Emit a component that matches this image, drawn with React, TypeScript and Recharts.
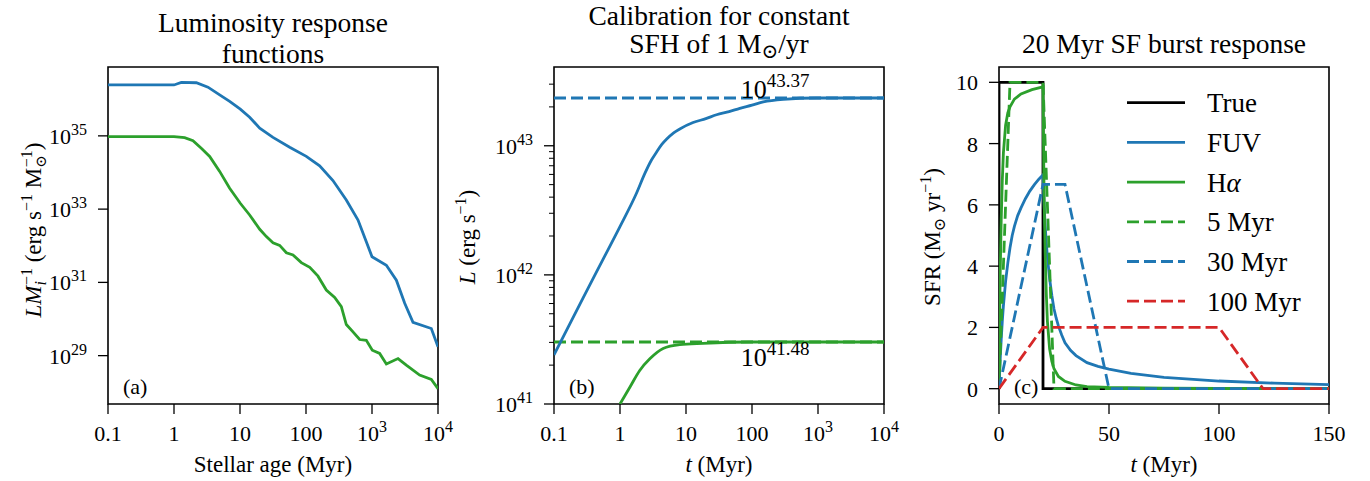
import React from 'react';
import { LineChart, Line, XAxis, YAxis, ReferenceArea, ReferenceDot, Legend } from 'recharts';

const FONT = "'Liberation Serif', 'DejaVu Serif', serif";
const BLUE = '#1f77b4';
const GREEN = '#2ca02c';
const RED = '#d62728';
const BLACK = '#000000';
const LW = 2.8;
const DASH = '12 5';

// ---------------- Panel (a): luminosity response functions ----------------
const ageTicks = [0.1, 1, 10, 100, 1000, 10000];
const respYTicks = [1e29, 1e31, 1e33, 1e35];
const respYLogRange = [27.68, 36.88];
const respFuvAge = [0.1, 1, 1.29, 2.18, 3.27, 4.92, 6.97, 10.1, 14, 19.9, 31.6, 56.6, 101, 161, 256, 408, 614, 820, 1000, 1650, 2340, 3130, 4180, 7920, 10000];
const respFuvLogL = [36.39, 36.39, 36.46, 36.45, 36.33, 36.12, 35.94, 35.73, 35.51, 35.21, 34.96, 34.69, 34.44, 34.18, 33.78, 33.25, 32.7, 32.11, 31.7, 31.47, 31.06, 30.43, 29.91, 29.74, 29.24];
const respHaAge = [0.1, 1, 1.45, 1.94, 2.59, 3.47, 4.92, 6.97, 10.1, 14, 19.9, 25.1, 31.6, 39.9, 50.4, 63.5, 84.9, 114, 152, 203, 272, 343, 408, 515, 650, 820, 1010, 1306, 1650, 2480, 3310, 5270, 7920, 10000];
const respHaLogL = [34.98, 34.98, 34.95, 34.87, 34.66, 34.44, 34.03, 33.57, 33.16, 32.84, 32.45, 32.25, 32.08, 32.01, 31.81, 31.75, 31.54, 31.41, 31.17, 30.79, 30.59, 30.34, 29.85, 29.65, 29.44, 29.42, 29.15, 29.06, 28.77, 28.92, 28.74, 28.47, 28.35, 28.1];

// ---------------- Panel (b): calibration for constant SFH ----------------
const calYTicks = [1e41, 2e41, 3e41, 4e41, 5e41, 6e41, 7e41, 8e41, 9e41, 1e42, 2e42, 3e42, 4e42, 5e42, 6e42, 7e42, 8e42, 9e42, 1e43, 2e43, 3e43];
const calYLogRange = [41, 43.61];
const calFuvT = [0.1, 0.275, 0.553, 0.99, 1.77, 2.4, 3.0, 3.57, 4.3, 5.06, 6.5, 8.05, 12.8, 20, 29, 45, 65.4, 100, 148, 297, 953, 10000];
const calFuvLogL = [41.38, 41.82, 42.12, 42.37, 42.63, 42.79, 42.89, 42.95, 43.01, 43.05, 43.1, 43.13, 43.18, 43.21, 43.24, 43.265, 43.29, 43.315, 43.34, 43.36, 43.37, 43.37];
const calHaT = [1, 1.41, 1.99, 2.83, 4.5, 8.05, 18.2, 92.9, 10000];
const calHaLogL = [41.0, 41.13, 41.26, 41.35, 41.43, 41.46, 41.47, 41.48, 41.48];
const calLevelT = [0.1, 10000];
const calFuvLevel = 43.37;
const calHaLevel = 41.48;
const calAnnotT = 70;

// ---------------- Panel (c): 20 Myr burst response ----------------
const burstXTicks = [0, 50, 100, 150];
const burstYTicks = [0, 2, 4, 6, 8, 10];
const trueT = [0, 0, 20, 20, 150];
const trueSfr = [0, 10, 10, 0, 0];
const fuvT = [0, 0.5, 1, 1.5, 2, 3, 4, 5, 6, 7, 8.5, 10, 12, 14, 16, 18, 20, 20.5, 21, 21.5, 22, 23, 24, 25, 26, 27, 28.5, 30, 32.5, 35, 40, 45, 50, 60, 75, 100, 125, 150];
const fuvSfr = [0, 0.9, 1.6, 2.2, 2.7, 3.5, 4.1, 4.6, 5.0, 5.3, 5.65, 5.9, 6.2, 6.45, 6.65, 6.83, 6.98, 6.0, 5.3, 4.75, 4.3, 3.6, 3.05, 2.6, 2.3, 2.05, 1.75, 1.5, 1.25, 1.08, 0.85, 0.73, 0.64, 0.5, 0.37, 0.25, 0.18, 0.13];
const haT = [0, 0.25, 0.5, 1, 1.5, 2, 3, 4, 5, 7, 10, 15, 20, 20.25, 20.5, 21, 21.5, 22, 23, 24, 25, 27, 30, 35, 40, 50, 75, 100, 150];
const haSfr = [0, 2.0, 3.6, 5.5, 6.8, 7.7, 8.6, 9.0, 9.2, 9.45, 9.62, 9.76, 9.85, 7.9, 6.3, 4.4, 3.1, 2.2, 1.3, 0.9, 0.65, 0.4, 0.24, 0.12, 0.07, 0.04, 0.02, 0.01, 0.01];
const avg5T = [0, 5, 20, 25, 150];
const avg5Sfr = [0, 10, 10, 0, 0];
const avg30T = [0, 20, 30, 50, 150];
const avg30Sfr = [0, 6.67, 6.67, 0, 0];
const avg100T = [0, 20, 100, 120, 150];
const avg100Sfr = [0, 2, 2, 0, 0];
const burstNames = ['True', 'FUV', 'Hα', '5 Myr', '30 Myr', '100 Myr'];
const burstColors = [BLACK, BLUE, GREEN, GREEN, BLUE, RED];
const burstDashed = [false, false, false, true, true, true];

const toLogPts = (xs: number[], logs: number[]) => xs.map((t, i) => ({ t, v: Math.pow(10, logs[i]) }));
const toPts = (xs: number[], ys: number[]) => xs.map((t, i) => ({ t, v: ys[i] }));

const burstSeries = [
  toPts(trueT, trueSfr),
  toPts(fuvT, fuvSfr),
  toPts(haT, haSfr),
  toPts(avg5T, avg5Sfr),
  toPts(avg30T, avg30Sfr),
  toPts(avg100T, avg100Sfr),
];

type Parts = [string, string] | null;
const sciParts = (v: number): Parts => {
  if (v < 1000) return [String(v), ''];
  return ['10', String(Math.round(Math.log10(v)))];
};
const decadeOnly = (v: number): Parts => {
  const l = Math.log10(v);
  if (Math.abs(l - Math.round(l)) > 1e-6) return null;
  return ['10', String(Math.round(l))];
};
const plainParts = (v: number): Parts => [String(v), ''];

const ts = { fontFamily: FONT } as const;

const makeXTick = (axisY: number, fmt: (v: number) => Parts) => (p: any) => {
  const x = p.x;
  const lab = fmt(p.payload.value);
  return (
    <g>
      <line x1={x} x2={x} y1={axisY} y2={axisY + 10} stroke={BLACK} strokeWidth={1.3} />
      {lab ? (
        <text x={x} y={axisY + 37} textAnchor="middle" style={ts} fontSize={22} fill={BLACK}>
          {lab[0]}
          {lab[1] ? <tspan dy={-9} fontSize={16}>{lab[1]}</tspan> : null}
        </text>
      ) : null}
    </g>
  );
};

const makeYTick = (axisX: number, fmt: (v: number) => Parts) => (p: any) => {
  const y = p.y;
  const lab = fmt(p.payload.value);
  const len = lab ? 10 : 5;
  return (
    <g>
      <line x1={axisX - len} x2={axisX} y1={y} y2={y} stroke={BLACK} strokeWidth={lab ? 1.3 : 1} />
      {lab ? (
        <text x={axisX - 21} y={y + 8} textAnchor="end" style={ts} fontSize={22} fill={BLACK}>
          {lab[0]}
          {lab[1] ? <tspan dy={-9} fontSize={16}>{lab[1]}</tspan> : null}
        </text>
      ) : null}
    </g>
  );
};

const xLabel = (content: React.ReactNode) => (props: any) => {
  const vb = props.viewBox || { x: 0, width: 0 };
  return (
    <text x={vb.x + vb.width / 2} y={472} textAnchor="middle" fontSize={23} style={ts} fill={BLACK}>
      {content}
    </text>
  );
};

const yLabel = (xBase: number, yCenter: number, content: React.ReactNode) => () => (
  <text x={xBase} y={yCenter} transform={`rotate(-90, ${xBase}, ${yCenter})`} textAnchor="middle" fontSize={23} style={ts} fill={BLACK}>
    {content}
  </text>
);

const frameLabel = (titles: React.ReactNode[], baselines: number[], letter: string, fs: number) => (props: any) => {
  const vb = props.viewBox || { x: 0, y: 0, width: 0, height: 0 };
  const cx = vb.x + vb.width / 2;
  return (
    <g>
      {titles.map((t, i) => (
        <text key={i} x={cx} y={baselines[i]} textAnchor="middle" fontSize={fs} style={ts} fill={BLACK}>
          {t}
        </text>
      ))}
      <text x={vb.x + 15} y={393.5} fontSize={22} style={ts} fill={BLACK}>
        {letter}
      </text>
    </g>
  );
};

const annotLabel = (base: string, exp: string, dyBase: number) => (props: any) => {
  const vb = props.viewBox || { x: 0, y: 0, width: 0, height: 0 };
  const x = vb.x + (vb.width || 0) / 2;
  const y = vb.y + (vb.height || 0) / 2;
  return (
    <text x={x - 1} y={y + dyBase} fontSize={26} style={ts} fill={BLACK}>
      {base}
      <tspan dy={-11} fontSize={19}>{exp}</tspan>
    </text>
  );
};

const renderBurstLegend = () => (
  <svg width={215} height={240} style={{ overflow: 'visible' }}>
    {burstNames.map((name, i) => {
      const cy = 22.7 + 39.7 * i;
      return (
        <g key={name}>
          <line x1={7} x2={65} y1={cy} y2={cy} stroke={burstColors[i]} strokeWidth={LW} strokeDasharray={burstDashed[i] ? DASH : undefined} />
          <text x={87} y={cy + 9.6} fontSize={27} style={ts} fill={BLACK}>
            {name === 'Hα' ? (
              <>
                H<tspan fontStyle="italic">α</tspan>
              </>
            ) : (
              name
            )}
          </text>
        </g>
      );
    })}
  </svg>
);

export default function App() {
  const respDomainY = [Math.pow(10, respYLogRange[0]), Math.pow(10, respYLogRange[1])];
  const calDomainY = [Math.pow(10, calYLogRange[0]), Math.pow(10, calYLogRange[1])];
  return (
    <div style={{ position: 'absolute', left: 0, top: 0, width: 1370, height: 481, background: '#fff', fontFamily: FONT }}>
      {/* Panel (a) */}
      <div style={{ position: 'absolute', left: 0, top: 0 }}>
        <LineChart width={470} height={481} margin={{ top: 67, right: 32, bottom: 0, left: 0 }}>
          <XAxis
            dataKey="t"
            type="number"
            scale="log"
            domain={[0.1, 10000]}
            allowDataOverflow
            ticks={ageTicks}
            interval={0}
            height={77}
            axisLine={false}
            tickLine={false}
            tick={makeXTick(404, sciParts)}
            label={xLabel('Stellar age (Myr)')}
          />
          <YAxis
            type="number"
            scale="log"
            domain={respDomainY}
            allowDataOverflow
            ticks={respYTicks}
            interval={0}
            width={108}
            axisLine={false}
            tickLine={false}
            tick={makeYTick(108, decadeOnly)}
            label={yLabel(41, 230, (
              <>
                <tspan fontStyle="italic">LM</tspan>
                <tspan fontStyle="italic" fontSize={16} dy={5}>i</tspan>
                <tspan fontSize={16} dx={-4} dy={-14}>−1</tspan>
                <tspan dy={9}> (erg s</tspan>
                <tspan fontSize={16} dy={-9}>−1</tspan>
                <tspan dy={9}> M</tspan>
                <tspan fontSize={15} dy={5}>⊙</tspan>
                <tspan fontSize={16} dx={-12} dy={-14}>−1</tspan>
                <tspan dy={9}>)</tspan>
              </>
            ))}
          />
          <ReferenceArea
            x1={0.1}
            x2={10000}
            y1={respDomainY[0]}
            y2={respDomainY[1]}
            fill="none"
            stroke={BLACK}
            strokeWidth={1.6}
            label={frameLabel(['Luminosity response', 'functions'], [32, 63], '(a)', 27.5)}
          />
          <Line data={toLogPts(respFuvAge, respFuvLogL)} dataKey="v" name="FUV" type="linear" stroke={BLUE} strokeWidth={LW} dot={false} activeDot={false} isAnimationActive={false} />
          <Line data={toLogPts(respHaAge, respHaLogL)} dataKey="v" name="Hα" type="linear" stroke={GREEN} strokeWidth={LW} dot={false} activeDot={false} isAnimationActive={false} />
        </LineChart>
      </div>

      {/* Panel (b) */}
      <div style={{ position: 'absolute', left: 450, top: 0 }}>
        <LineChart width={450} height={481} margin={{ top: 67, right: 16, bottom: 0, left: 0 }}>
          <XAxis
            dataKey="t"
            type="number"
            scale="log"
            domain={[0.1, 10000]}
            allowDataOverflow
            ticks={ageTicks}
            interval={0}
            height={77}
            axisLine={false}
            tickLine={false}
            tick={makeXTick(404, sciParts)}
            label={xLabel(<><tspan fontStyle="italic">t</tspan> (Myr)</>)}
          />
          <YAxis
            type="number"
            scale="log"
            domain={calDomainY}
            allowDataOverflow
            ticks={calYTicks}
            interval={0}
            width={104}
            axisLine={false}
            tickLine={false}
            tick={makeYTick(104, decadeOnly)}
            label={yLabel(25, 237, (
              <>
                <tspan fontStyle="italic">L</tspan>
                <tspan> (erg s</tspan>
                <tspan fontSize={16} dy={-9}>−1</tspan>
                <tspan dy={9}>)</tspan>
              </>
            ))}
          />
          <ReferenceArea
            x1={0.1}
            x2={10000}
            y1={calDomainY[0]}
            y2={calDomainY[1]}
            fill="none"
            stroke={BLACK}
            strokeWidth={1.6}
            label={frameLabel(
              [
                'Calibration for constant',
                <>
                  SFH of 1 M<tspan fontSize={20} dy={5}>⊙</tspan>
                  <tspan dy={-5}>/yr</tspan>
                </>,
              ],
              [25, 53],
              '(b)',
              27.5
            )}
          />
          <Line data={toLogPts(calLevelT, [calFuvLevel, calFuvLevel])} dataKey="v" name="FUV level" type="linear" stroke={BLUE} strokeWidth={LW} strokeDasharray={DASH} dot={false} activeDot={false} isAnimationActive={false} />
          <Line data={toLogPts(calLevelT, [calHaLevel, calHaLevel])} dataKey="v" name="Hα level" type="linear" stroke={GREEN} strokeWidth={LW} strokeDasharray={DASH} dot={false} activeDot={false} isAnimationActive={false} />
          <Line data={toLogPts(calFuvT, calFuvLogL)} dataKey="v" name="FUV" type="monotone" stroke={BLUE} strokeWidth={LW} dot={false} activeDot={false} isAnimationActive={false} />
          <Line data={toLogPts(calHaT, calHaLogL)} dataKey="v" name="Hα" type="monotone" stroke={GREEN} strokeWidth={LW} dot={false} activeDot={false} isAnimationActive={false} />
          <ReferenceDot x={calAnnotT} y={Math.pow(10, calFuvLevel)} r={1} fill="none" stroke="none" label={annotLabel('10', String(calFuvLevel), 0)} />
          <ReferenceDot x={calAnnotT} y={Math.pow(10, calHaLevel)} r={1} fill="none" stroke="none" label={annotLabel('10', String(calHaLevel), 24)} />
        </LineChart>
      </div>

      {/* Panel (c) */}
      <div style={{ position: 'absolute', left: 900, top: 0 }}>
        <LineChart width={450} height={481} margin={{ top: 67, right: 21, bottom: 0, left: 0 }}>
          <XAxis
            dataKey="t"
            type="number"
            domain={[0, 150]}
            allowDataOverflow
            ticks={burstXTicks}
            interval={0}
            height={77}
            axisLine={false}
            tickLine={false}
            tick={makeXTick(404, plainParts)}
            label={xLabel(<><tspan fontStyle="italic">t</tspan> (Myr)</>)}
          />
          <YAxis
            type="number"
            domain={[-0.5, 10.5]}
            allowDataOverflow
            ticks={burstYTicks}
            interval={0}
            width={99}
            axisLine={false}
            tickLine={false}
            tick={makeYTick(99, plainParts)}
            label={yLabel(40, 237, (
              <>
                <tspan>SFR (M</tspan>
                <tspan fontSize={16} dy={5}>⊙</tspan>
                <tspan dy={-5}> yr</tspan>
                <tspan fontSize={16} dy={-9}>−1</tspan>
                <tspan dy={9}>)</tspan>
              </>
            ))}
          />
          <ReferenceArea
            x1={0}
            x2={150}
            y1={-0.5}
            y2={10.5}
            fill="none"
            stroke={BLACK}
            strokeWidth={1.6}
            label={frameLabel(['20 Myr SF burst response'], [53.3], '(c)', 27.5)}
          />
          {burstSeries.map((d, i) => (
            <Line
              key={burstNames[i]}
              data={d}
              dataKey="v"
              name={burstNames[i]}
              type="linear"
              stroke={burstColors[i]}
              strokeWidth={LW}
              strokeDasharray={burstDashed[i] ? DASH : undefined}
              dot={false}
              activeDot={false}
              isAnimationActive={false}
            />
          ))}
          <Legend
            layout="vertical"
            align="center"
            verticalAlign="middle"
            content={renderBurstLegend}
            wrapperStyle={{ position: 'absolute', left: 220, top: 80, width: 215, height: 240 }}
          />
        </LineChart>
      </div>
    </div>
  );
}
